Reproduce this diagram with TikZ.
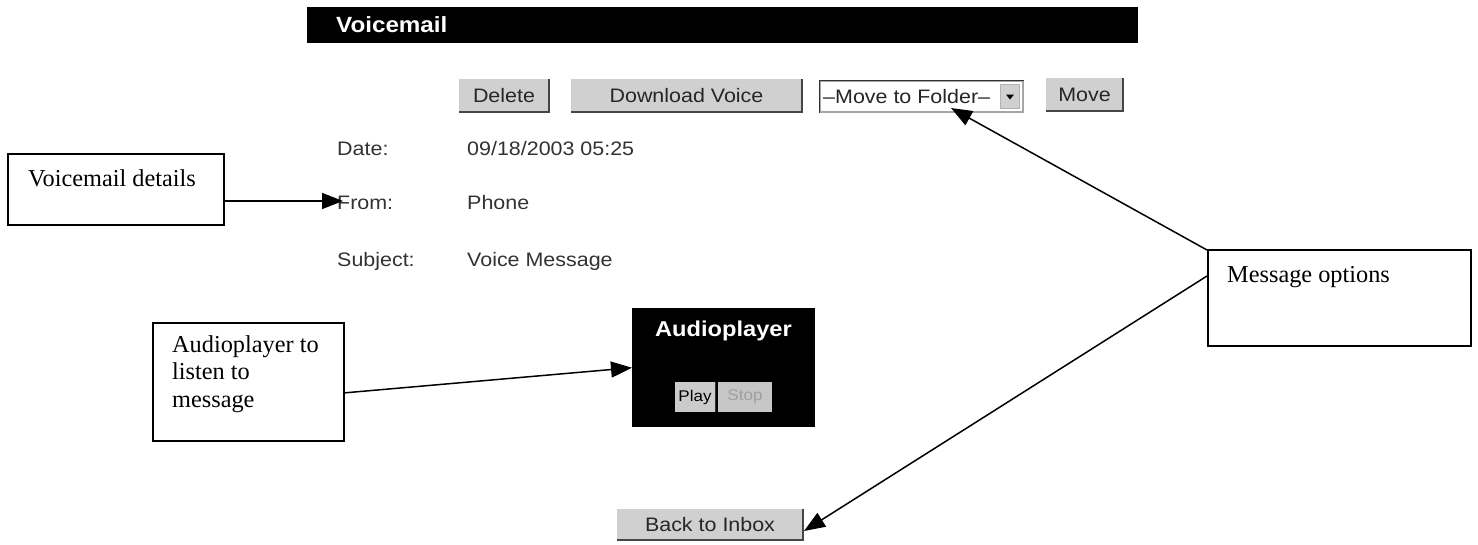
\documentclass[tikz,border=0pt]{standalone}
\usepackage{fontspec}
\setmainfont{Liberation Serif}
\newfontfamily\uifont[FakeStretch=1.1]{Liberation Sans}
\usetikzlibrary{arrows.meta,calc}
\definecolor{btnfill}{RGB}{208,208,208}
\definecolor{btnshade}{RGB}{70,70,70}
\definecolor{uitext}{RGB}{50,50,50}
\begin{document}
\begin{tikzpicture}[x=1pt,y=-1pt,
  callout/.style={draw=black, line width=1.8pt, fill=white, inner sep=0pt},
  callouttext/.style={inner sep=0pt, font=\fontsize{24.3}{27.5}\selectfont, align=left},
  arr/.style={line width=1.5pt, -{Triangle[length=21pt,width=16pt]}},
  uibtn/.style={fill=btnfill, inner sep=0pt, font=\uifont\fontsize{19.5}{21}\selectfont, text=black!85},
  btnedge/.style={draw=btnshade, line width=1.8pt},
  uilbl/.style={anchor=base west, inner sep=0pt, font=\uifont\fontsize{19.5}{21}\selectfont, text=uitext}
]
\useasboundingbox (0,0) rectangle (1478,544);
\fill[white] (0,0) rectangle (1478,544);

% header bar
\node[fill=black, minimum width=831pt, minimum height=36pt, inner sep=0pt, anchor=north west] (hdr) at (307,7) {};
\node[anchor=base west, inner sep=0pt, text=white, font=\uifont\bfseries\fontsize{22}{24}\selectfont] (hdrtxt) at (336,32) {Voicemail};

% buttons row
\node[uibtn, minimum width=90pt, minimum height=33pt] (del) at (504,95.5) {Delete};
\node[uibtn, minimum width=231pt, minimum height=33pt] (dl) at (686.5,95.5) {Download Voice};
\node[fill=white, draw=gray!70, line width=1.2pt, minimum width=203pt, minimum height=31pt, inner sep=0pt] (fold) at (921.5,96.5) {};
\node[anchor=west, inner sep=0pt, font=\uifont\fontsize{19.5}{21}\selectfont, text=black!85] (foldtxt) at (823,97) {–Move to Folder–};
\node[fill=btnfill, draw=gray!60, minimum width=19pt, minimum height=24pt, inner sep=0pt] (foldbtn) at (1010,96.5) {};
\fill[black] ($(foldbtn.center)+(-4,-2)$) -- ++(8,0) -- ++(-4,5) -- cycle;
\node[uibtn, minimum width=77pt, minimum height=33pt] (mv) at (1084.5,94.5) {Move};
\draw[btnedge] (del.north east) -- (del.south east) -- (del.south west);
\draw[btnedge] (dl.north east) -- (dl.south east) -- (dl.south west);
\draw[btnedge] (mv.north east) -- (mv.south east) -- (mv.south west);
\draw[draw=gray!40!black, line width=1.2pt] (fold.south west) -- (fold.north west) -- (fold.north east);

% details
\node[uilbl] (datel) at (337,155) {Date:};
\node[uilbl] (datev) at (467,155) {09/18/2003 05:25};
\node[uilbl] (froml) at (337,209) {From:};
\node[uilbl] (fromv) at (467,209) {Phone};
\node[uilbl] (subjl) at (337,266) {Subject:};
\node[uilbl] (subjv) at (467,266) {Voice Message};

% audioplayer
\node[fill=black, minimum width=183pt, minimum height=119pt, inner sep=0pt, anchor=north west] (player) at (632,308) {};
\node[inner sep=0pt, text=white, font=\uifont\bfseries\fontsize{21.5}{24}\selectfont] (ptitle) at (723.5,331) {Audioplayer};
\node[fill=btnfill!110, inner sep=0pt, minimum width=40pt, minimum height=30pt, font=\uifont\fontsize{15.5}{17}\selectfont, text=black] (play) at (695,397) {Play};
\node[fill=gray!45, inner sep=0pt, minimum width=54pt, minimum height=30pt, font=\uifont\fontsize{15.5}{17}\selectfont, text=gray!75] (stop) at (745,397) {Stop};
\draw[draw=gray!40!black, line width=1pt] (play.north east) -- (play.south east);

% back to inbox
\node[uibtn, minimum width=186pt, minimum height=31pt] (inbox) at (710,524.5) {Back to Inbox};
\draw[btnedge] (inbox.north east) -- (inbox.south east) -- (inbox.south west);

% callouts
\node[callout, minimum width=216pt, minimum height=71pt, anchor=north west] (vd) at (7,153) {};
\node[anchor=base west, callouttext] (vdtxt) at (28,186) {Voicemail details};
\node[callout, minimum width=191pt, minimum height=118pt, anchor=north west] (apc) at (152,322) {};
\node[anchor=north west, callouttext] (apctxt) at (172,335) {Audioplayer to\\listen to\\message};
\node[callout, minimum width=263pt, minimum height=96pt, anchor=north west] (mo) at (1207,249) {};
\node[anchor=base west, callouttext] (motxt) at (1227,282) {Message options};

% connectors
\coordinate (fromtip) at (343,201);
\coordinate (apfrom) at (343,393);
\coordinate (mo1) at (1207,250);
\coordinate (mo2) at (1207,276);
\coordinate (foldtip) at (951,108);
\coordinate (inboxtip) at (804,531);
\draw[arr] (vd.east |- fromtip) -- (fromtip);
\draw[arr] (apfrom) -- (player.west);
\draw[arr] (mo1) -- (foldtip);
\draw[arr] (mo2) -- (inboxtip);
\end{tikzpicture}
\end{document}
